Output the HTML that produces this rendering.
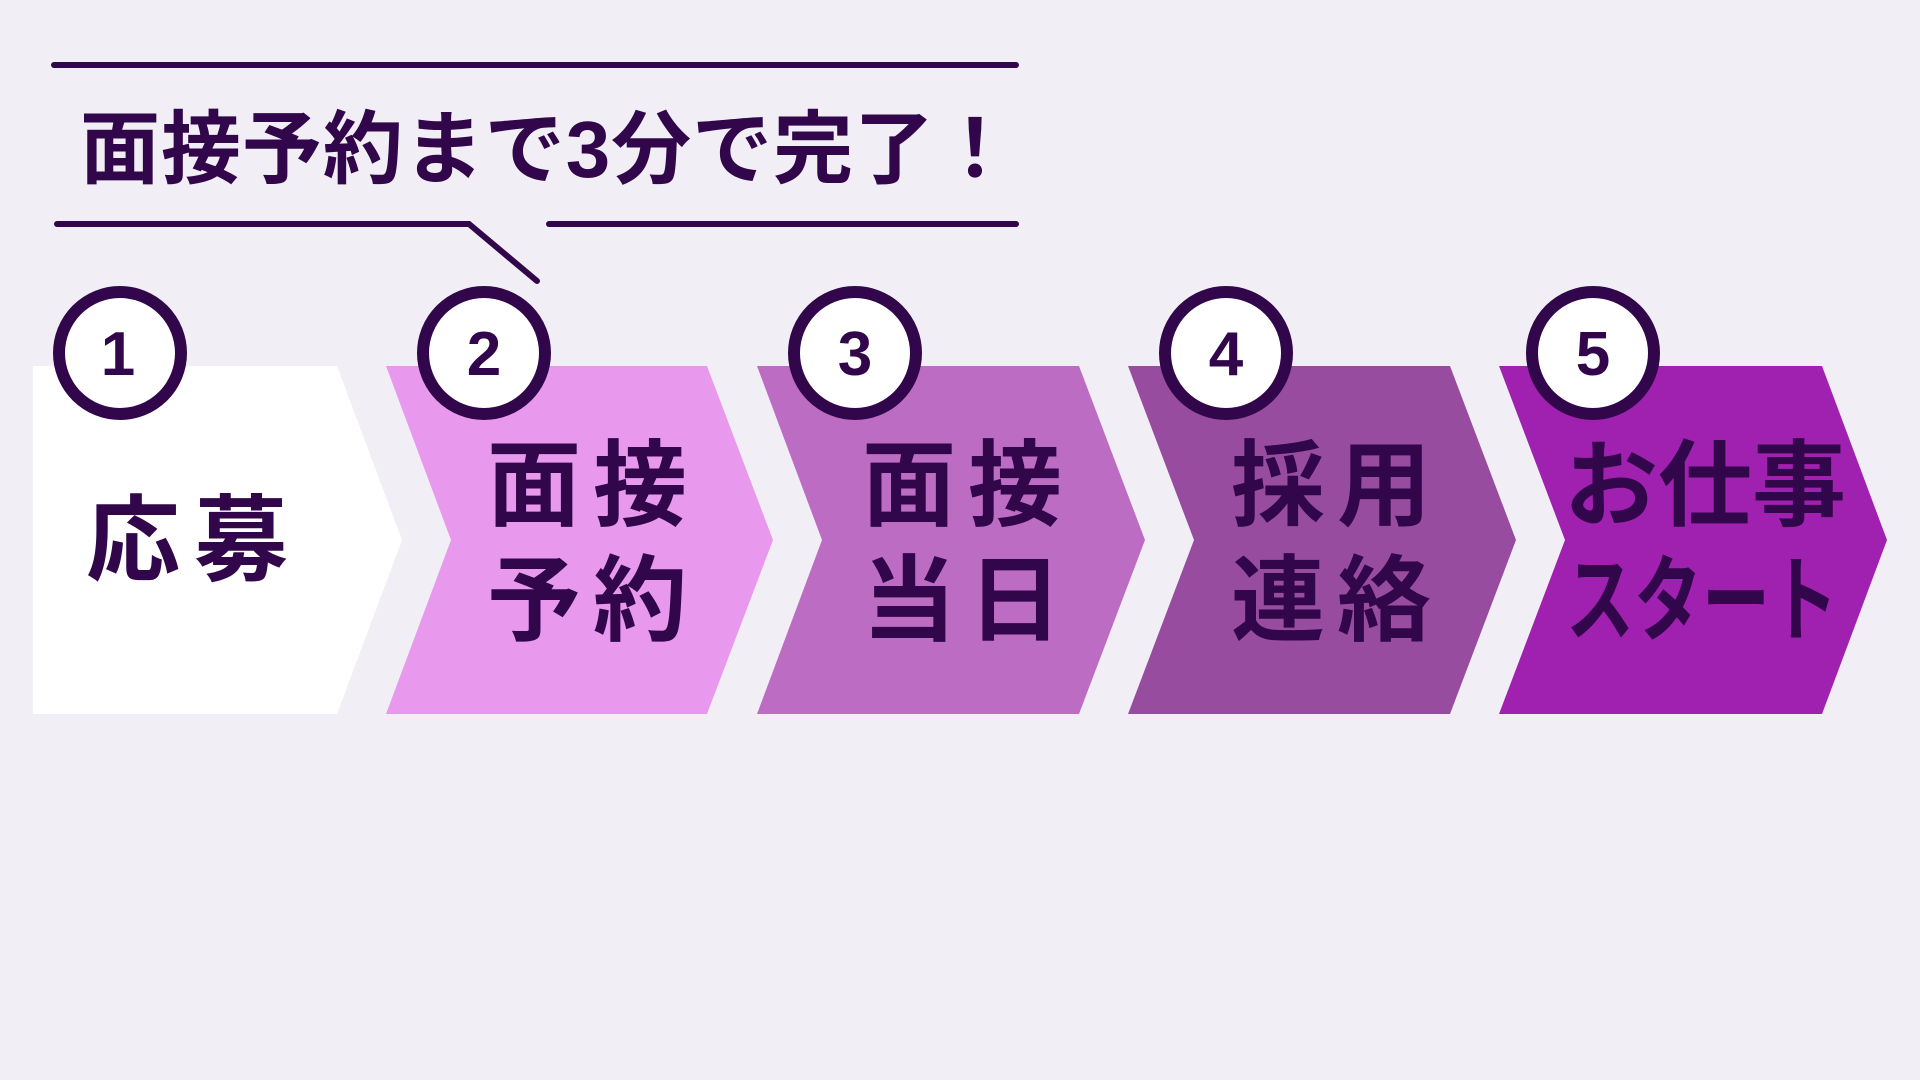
<!DOCTYPE html>
<html><head><meta charset="utf-8"><style>
html,body{margin:0;padding:0;background:#f1eff5;width:1920px;height:1080px;overflow:hidden}
svg{display:block}
text{font-family:"Liberation Sans","Noto Sans CJK JP",sans-serif;font-weight:bold;fill:#32064a}
</style></head><body>
<svg width="1920" height="1080" viewBox="0 0 1920 1080">
<rect width="1920" height="1080" fill="#f1eff5"/>
<g stroke="#32064a" stroke-width="6" stroke-linecap="round" fill="none">
<line x1="54" y1="65" x2="1016" y2="65"/>
<polyline points="57,224 469,224 537,281"/>
<line x1="549" y1="224" x2="1016" y2="224"/>
</g>
<text x="80" y="177" font-size="80" textLength="935" lengthAdjust="spacing">面接予約まで3分で完了！</text>
<polygon points="33,366 337,366 402,540 337,714 33,714" fill="#ffffff"/>
<polygon points="386,366 707,366 773,540 707,714 386,714 451,540" fill="#e899ee"/>
<polygon points="757,366 1079,366 1145,540 1079,714 757,714 822,540" fill="#bc6cc3"/>
<polygon points="1128,366 1450,366 1516,540 1450,714 1128,714 1194,540" fill="#974ca0"/>
<polygon points="1499,366 1822,366 1887,540 1822,714 1499,714 1565,540" fill="#a020b0"/>
<g fill="#fff" stroke="#32064a" stroke-width="12">
<circle cx="120" cy="353" r="61"/>
<circle cx="484" cy="353" r="61"/>
<circle cx="855" cy="353" r="61"/>
<circle cx="1226" cy="353" r="61"/>
<circle cx="1593" cy="353" r="61"/>
</g>
<g font-size="62" text-anchor="middle">
<text x="118" y="375">1</text>
<text x="484" y="375">2</text>
<text x="855" y="375">3</text>
<text x="1226" y="375">4</text>
<text x="1593" y="375">5</text>
</g>
<g font-size="94">
<text x="86" y="573" textLength="202" lengthAdjust="spacing">応募</text>
<text x="487" y="518" textLength="200" lengthAdjust="spacing">面接</text>
<text x="487" y="633" textLength="200" lengthAdjust="spacing">予約</text>
<text x="862" y="518" textLength="200" lengthAdjust="spacing">面接</text>
<text x="862" y="633" textLength="200" lengthAdjust="spacing">当日</text>
<text x="1231" y="518" textLength="200" lengthAdjust="spacing">採用</text>
<text x="1231" y="633" textLength="200" lengthAdjust="spacing">連絡</text>
<text x="1564" y="518" textLength="282" lengthAdjust="spacingAndGlyphs">お仕事</text>
<text x="1566" y="633" textLength="272" lengthAdjust="spacingAndGlyphs">スタート</text>
</g>
</svg>
</body></html>
